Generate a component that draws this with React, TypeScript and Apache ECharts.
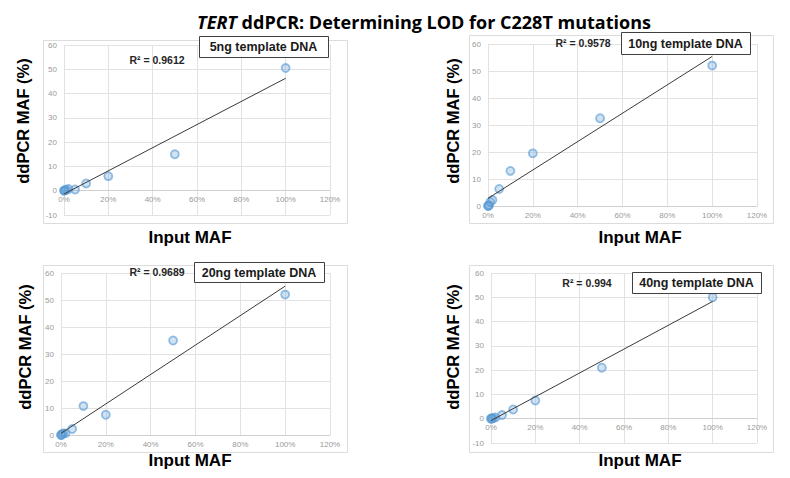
import React, { useEffect, useRef } from "react";
import * as echarts from "echarts";

// ---- data ----
const inputMaf = [0, 0.001, 0.005, 0.01, 0.02, 0.05, 0.1, 0.2, 0.5, 1];
const maf5ng = [0, 0.1, 0.2, 0.4, 0.7, 0.5, 3, 6, 15, 50.5];
const maf10ng = [0, 0.1, 0.3, 1.5, 2.2, 6.3, 13, 19.5, 32.5, 52];
const maf20ng = [0, 0, 0.3, 0.6, 0.6, 2.2, 10.7, 7.5, 35, 52];
const maf40ng = [0, 0.1, 0.1, 0.3, 0.5, 1.5, 3.8, 7.5, 21, 50];
const panelLabels = ["5ng template DNA", "10ng template DNA", "20ng template DNA", "40ng template DNA"];
const r2Labels = ["R² = 0.9612", "R² = 0.9578", "R² = 0.9689", "R² = 0.994"];
const yMins = [-10, 0, 0, -10];
const yMax = 60;
const titleMain = "TERT";
const titleRest = " ddPCR: Determining LOD for C228T mutations";
const yTitle = "ddPCR MAF (%)";
const xTitle = "Input MAF";

const seriesValues = [maf5ng, maf10ng, maf20ng, maf40ng];

// ---- layout ----
const layout = [
  { grid: { left: 64, top: 45, width: 266, height: 170 }, area: [43, 40, 304, 183], box: [199, 36, 129, 21], r2: [157, 60], yT: [23, 121], xT: [190, 237] },
  { grid: { left: 488, top: 44, width: 269, height: 162 }, area: [469, 35, 304, 188], box: [621, 32, 129, 22], r2: [583, 43], yT: [453, 121], xT: [640, 237] },
  { grid: { left: 61, top: 273, width: 269, height: 162 }, area: [43, 265, 304, 187], box: [194, 262, 130, 20], r2: [157, 272], yT: [25, 347], xT: [190, 460] },
  { grid: { left: 491, top: 273, width: 266, height: 170 }, area: [469, 265, 304, 187], box: [632, 272, 129, 21], r2: [587, 283], yT: [453, 347], xT: [640, 460] },
];

const FONT = "'Liberation Sans', Arial, sans-serif";

function linReg(xs: number[], ys: number[]) {
  const n = xs.length;
  const mx = xs.reduce((a, b) => a + b, 0) / n;
  const my = ys.reduce((a, b) => a + b, 0) / n;
  let sxy = 0, sxx = 0;
  for (let i = 0; i < n; i++) {
    sxy += (xs[i] - mx) * (ys[i] - my);
    sxx += (xs[i] - mx) * (xs[i] - mx);
  }
  const slope = sxy / sxx;
  return { slope, intercept: my - slope * mx };
}

export default function App() {
  const ref = useRef<HTMLDivElement>(null);
  useEffect(() => {
    if (!ref.current) return;
    const chart = echarts.init(ref.current, null, { renderer: "svg" });

    const grids: any[] = [];
    const xAxes: any[] = [];
    const yAxes: any[] = [];
    const series: any[] = [];
    const graphic: any[] = [];

    layout.forEach((L, i) => {
      const ys = seriesValues[i];
      const yMin = yMins[i];
      // place the x axis at y = 0 (Excel "horizontal axis crosses at 0")
      const zeroOffset = yMin < 0 ? -(L.grid.height * (0 - yMin)) / (yMax - yMin) : 0;
      grids.push({ ...L.grid, containLabel: false });
      xAxes.push({
        type: "value",
        gridIndex: i,
        position: "bottom",
        offset: zeroOffset,
        min: 0,
        max: 1.2,
        interval: 0.2,
        axisLine: { show: true, onZero: false, lineStyle: { color: "#d0d0d0", width: 1 } },
        axisTick: { show: false },
        axisLabel: {
          color: "#9a9a9a",
          fontSize: 8,
          fontFamily: FONT,
          margin: 5,
          formatter: (v: number) => Math.round(v * 100) + "%",
        },
        splitLine: { show: true, lineStyle: { color: "#e2e2e2", width: 1 } },
      });
      yAxes.push({
        type: "value",
        gridIndex: i,
        min: yMin,
        max: yMax,
        interval: 10,
        axisLine: { show: false, onZero: false },
        axisTick: { show: false },
        axisLabel: { color: "#9a9a9a", fontSize: 8, fontFamily: FONT, margin: 7 },
        splitLine: { show: true, lineStyle: { color: "#e2e2e2", width: 1 } },
      });
      const { slope, intercept } = linReg(inputMaf, ys);
      const xMinD = Math.min(...inputMaf);
      const xMaxD = Math.max(...inputMaf);
      series.push({
        type: "line",
        xAxisIndex: i,
        yAxisIndex: i,
        data: [
          [xMinD, intercept + slope * xMinD],
          [xMaxD, intercept + slope * xMaxD],
        ],
        showSymbol: false,
        symbol: "none",
        lineStyle: { color: "#3a3a3a", width: 1 },
        z: 3,
        silent: true,
      });
      series.push({
        type: "scatter",
        xAxisIndex: i,
        yAxisIndex: i,
        data: inputMaf.map((x, k) => [x, ys[k]]),
        symbol: "circle",
        symbolSize: 8,
        itemStyle: {
          color: "rgba(91,155,213,0.35)",
          borderColor: "rgba(91,155,213,0.8)",
          borderWidth: 1.8,
        },
        z: 2,
      });

      graphic.push({
        type: "rect",
        shape: { x: L.area[0] + 0.5, y: L.area[1] + 0.5, width: L.area[2], height: L.area[3] },
        style: { fill: "none", stroke: "#dcdcdc", lineWidth: 1 },
        z: 0,
        silent: true,
      });
      graphic.push({
        type: "rect",
        shape: { x: L.box[0] + 0.5, y: L.box[1] + 0.5, width: L.box[2], height: L.box[3] },
        style: { fill: "#ffffff", stroke: "#404040", lineWidth: 1 },
        z: 10,
      });
      graphic.push({
        type: "text",
        x: L.box[0] + L.box[2] / 2,
        y: L.box[1] + L.box[3] / 2 + 0.5,
        style: {
          text: panelLabels[i],
          fontSize: 12.5,
          fontWeight: "bold",
          fontFamily: FONT,
          fill: "#1a1a1a",
          align: "center",
          verticalAlign: "middle",
        },
        z: 11,
      });
      graphic.push({
        type: "text",
        x: L.r2[0],
        y: L.r2[1],
        style: {
          text: r2Labels[i],
          fontSize: 10.5,
          fontWeight: "bold",
          fontFamily: FONT,
          fill: "#262626",
          align: "center",
          verticalAlign: "middle",
        },
        z: 11,
      });
      graphic.push({
        type: "text",
        x: L.yT[0],
        y: L.yT[1],
        rotation: Math.PI / 2,
        style: {
          text: yTitle,
          fontSize: 16.5,
          fontWeight: "bold",
          fontFamily: FONT,
          fill: "#000000",
          align: "center",
          verticalAlign: "middle",
        },
        z: 11,
      });
      graphic.push({
        type: "text",
        x: L.xT[0],
        y: L.xT[1],
        style: {
          text: xTitle,
          fontSize: 17,
          fontWeight: "bold",
          fontFamily: FONT,
          fill: "#000000",
          align: "center",
          verticalAlign: "middle",
        },
        z: 11,
      });
    });

    graphic.push({
      type: "text",
      x: 424,
      y: 22,
      style: {
        text: "{i|" + titleMain + "}" + titleRest,
        fontSize: 18,
        fontWeight: "bold",
        fontFamily: "'Open Sans', 'Noto Sans', sans-serif",
        fill: "#000000",
        align: "center",
        verticalAlign: "middle",
        rich: {
          i: {
            fontSize: 18,
            fontWeight: "bold",
            fontStyle: "italic",
            fontFamily: "'Open Sans', 'Noto Sans', sans-serif",
            fill: "#000000",
          },
        },
      },
      z: 11,
    });

    chart.setOption({
      animation: false,
      backgroundColor: "#ffffff",
      grid: grids,
      xAxis: xAxes,
      yAxis: yAxes,
      series,
      graphic,
    });
    return () => chart.dispose();
  }, []);
  return (
    <div
      ref={ref}
      style={{ position: "absolute", left: 0, top: 0, width: 790, height: 478 }}
    />
  );
}
